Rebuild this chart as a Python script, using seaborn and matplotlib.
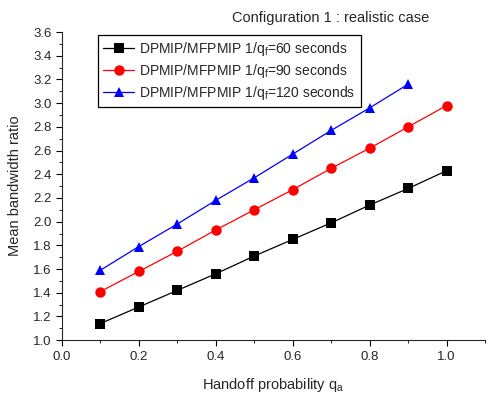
import matplotlib
matplotlib.use("Agg")
import matplotlib.pyplot as plt
import seaborn as sns
import pandas as pd
from matplotlib.ticker import MultipleLocator

qa = [0.1, 0.2, 0.3, 0.4, 0.5, 0.6, 0.7, 0.8, 0.9, 1.0]
ratio_60 = [1.14, 1.28, 1.42, 1.56, 1.71, 1.85, 1.99, 2.14, 2.28, 2.43]
ratio_90 = [1.41, 1.58, 1.75, 1.93, 2.10, 2.27, 2.45, 2.62, 2.80, 2.98]
qa_120 = [0.1, 0.2, 0.3, 0.4, 0.5, 0.6, 0.7, 0.8, 0.9]
ratio_120 = [1.59, 1.79, 1.98, 2.18, 2.37, 2.57, 2.77, 2.96, 3.16]

labels = ["DPMIP/MFPMIP 1/q$_\\mathregular{f}$=60 seconds",
          "DPMIP/MFPMIP 1/q$_\\mathregular{f}$=90 seconds",
          "DPMIP/MFPMIP 1/q$_\\mathregular{f}$=120 seconds"]

df = pd.concat([
    pd.DataFrame({"qa": qa, "ratio": ratio_60, "serie": labels[0]}),
    pd.DataFrame({"qa": qa, "ratio": ratio_90, "serie": labels[1]}),
    pd.DataFrame({"qa": qa_120, "ratio": ratio_120, "serie": labels[2]}),
])

sns.set_style("ticks")
plt.rcParams["font.family"] = ["Liberation Sans", "DejaVu Sans"]
plt.rcParams["mathtext.fontset"] = "custom"
plt.rcParams["mathtext.rm"] = "Liberation Sans"

fig = plt.figure(figsize=(4.87, 3.96), dpi=100)
ax = fig.add_axes([0.127, 0.141, 0.869, 0.778])

sns.lineplot(data=df, x="qa", y="ratio", hue="serie", style="serie",
             palette=["black", "red", "blue"], markers=["s", "o", "^"],
             dashes=False, markersize=7.5, markeredgewidth=0, linewidth=0.9, ax=ax)

ax.set_xlim(0, 1.1)
ax.set_ylim(1.0, 3.6)
ax.xaxis.set_major_locator(MultipleLocator(0.2))
ax.xaxis.set_minor_locator(MultipleLocator(0.1))
ax.yaxis.set_major_locator(MultipleLocator(0.2))
ax.yaxis.set_minor_locator(MultipleLocator(0.1))
ax.tick_params(which="major", length=4, labelsize=9.5, color="black")
ax.tick_params(which="minor", length=2.5, color="black")
sns.despine(ax=ax)

ax.set_xlabel("Handoff probability q$_\\mathregular{a}$", fontsize=10.5, labelpad=10)
ax.set_ylabel("Mean bandwidth ratio", fontsize=10.5, labelpad=8)
fig.text(0.678, 0.955, "Configuration 1 : realistic case", ha="center", va="center", fontsize=10.5)

leg = ax.legend(loc="upper left", bbox_to_anchor=(0.08, 1.0), fontsize=10,
                fancybox=False, edgecolor="black", framealpha=1,
                handlelength=2.2, handletextpad=0.4, borderpad=0.35,
                labelspacing=0.3, borderaxespad=0.2)
leg.get_frame().set_linewidth(0.9)
leg.set_title(None)

fig.savefig("out.png", dpi=100)
